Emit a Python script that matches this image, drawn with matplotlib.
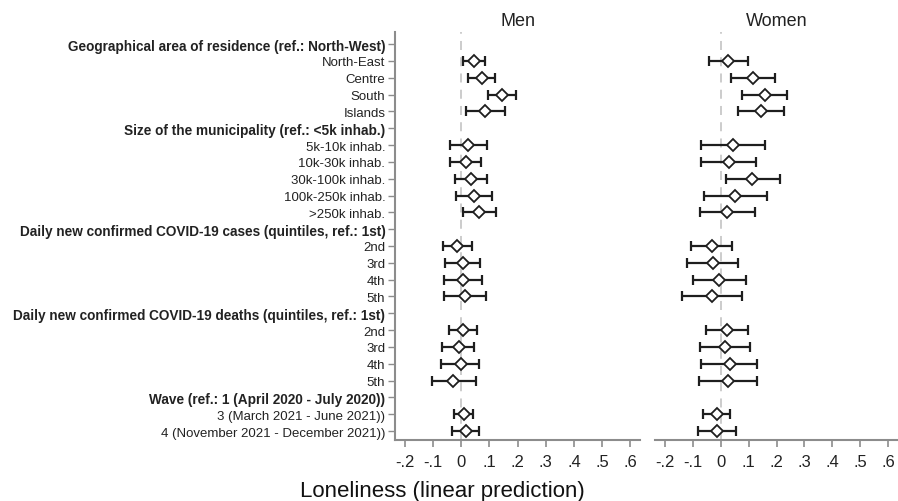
import numpy as np
import matplotlib
matplotlib.use("Agg")
import matplotlib.pyplot as plt
from matplotlib.ticker import FuncFormatter

plt.rcParams["font.family"] = ["Liberation Sans", "DejaVu Sans"]

# -------------------------------
# Coefficients (linear prediction of loneliness)
# -------------------------------
labels = [
    "Geographical area of residence (ref.: North-West)",
    "North-East", "Centre", "South", "Islands",
    "Size of the municipality (ref.: <5k inhab.)",
    "5k-10k inhab.", "10k-30k inhab.", "30k-100k inhab.", "100k-250k inhab.", ">250k inhab.",
    "Daily new confirmed COVID-19 cases (quintiles, ref.: 1st)",
    "2nd", "3rd", "4th", "5th",
    "Daily new confirmed COVID-19 deaths (quintiles, ref.: 1st)",
    "2nd", "3rd", "4th", "5th",
    "Wave (ref.: 1 (April 2020 - July 2020))",
    "3 (March 2021 - June 2021))",
    "4 (November 2021 - December 2021))",
]
headers = [0, 5, 11, 16, 21]

# None marks a header row (reference category, nothing to plot)
men_est = [None, 0.047, 0.073, 0.146, 0.086,
           None, 0.025, 0.017, 0.035, 0.047, 0.065,
           None, -0.013, 0.006, 0.007, 0.013,
           None, 0.006, -0.008, -0.002, -0.028,
           None, 0.010, 0.018]
men_lo = [None, 0.006, 0.026, 0.095, 0.017,
          None, -0.041, -0.038, -0.022, -0.019, 0.008,
          None, -0.063, -0.056, -0.060, -0.060,
          None, -0.043, -0.067, -0.070, -0.104,
          None, -0.026, -0.032]
men_hi = [None, 0.086, 0.120, 0.194, 0.157,
          None, 0.091, 0.071, 0.091, 0.109, 0.122,
          None, 0.037, 0.067, 0.074, 0.089,
          None, 0.056, 0.047, 0.063, 0.052,
          None, 0.044, 0.063]

women_est = [None, 0.027, 0.117, 0.158, 0.145,
             None, 0.045, 0.030, 0.112, 0.052, 0.024,
             None, -0.032, -0.028, -0.004, -0.031,
             None, 0.022, 0.015, 0.034, 0.028,
             None, -0.013, -0.012]
women_lo = [None, -0.041, 0.038, 0.078, 0.061,
            None, -0.071, -0.069, 0.018, -0.060, -0.074,
            None, -0.107, -0.118, -0.100, -0.138,
            None, -0.052, -0.073, -0.068, -0.077,
            None, -0.064, -0.079]
women_hi = [None, 0.097, 0.195, 0.239, 0.226,
            None, 0.158, 0.127, 0.212, 0.167, 0.122,
            None, 0.041, 0.061, 0.091, 0.076,
            None, 0.098, 0.106, 0.130, 0.130,
            None, 0.035, 0.057]

xticks = [-0.2, -0.1, 0, 0.1, 0.2, 0.3, 0.4, 0.5, 0.6]
panels = ["Men", "Women"]

AXIS_GREY = "#8c8c8c"
INK = "#1e1e1e"


def stata_fmt(v, pos):
    if abs(v) < 1e-9:
        return "0"
    s = "%.1f" % v
    return s.replace("0.", ".")


def draw_panel(ax, est, lo, hi, title, show_y):
    rows = [i for i, e in enumerate(est) if e is not None]
    e = np.array([est[i] for i in rows])
    l = np.array([lo[i] for i in rows])
    h = np.array([hi[i] for i in rows])

    ax.axvline(0, color="#c8c8c8", lw=1.3, ls=(0, (5, 4)), zorder=1)
    ax.errorbar(e, rows, xerr=[e - l, h - e], fmt="none", ecolor=INK,
                elinewidth=1.6, capsize=3.5, capthick=1.6, zorder=2)
    ax.plot(e, rows, ls="none", marker="D", ms=6.5, mfc="white",
            mec=INK, mew=1.3, zorder=3)

    ax.set_xlim(-0.234, 0.634)
    ax.set_ylim(23.53, -0.71)
    ax.set_xticks(xticks)
    ax.xaxis.set_major_formatter(FuncFormatter(stata_fmt))
    ax.tick_params(axis="x", length=5, width=1.2, color=AXIS_GREY,
                   labelsize=12, labelcolor="#222222", pad=5)

    for side in ["top", "right"]:
        ax.spines[side].set_visible(False)
    ax.spines["bottom"].set_color(AXIS_GREY)
    ax.spines["bottom"].set_linewidth(1.5)

    if show_y:
        ax.spines["left"].set_color(AXIS_GREY)
        ax.spines["left"].set_linewidth(1.5)
        ax.set_yticks(range(len(labels)))
        ax.set_yticklabels(labels)
        ax.tick_params(axis="y", length=5, width=1.0, color=AXIS_GREY,
                       labelsize=9.5, labelcolor="#222222", pad=2)
        for i, t in enumerate(ax.get_yticklabels()):
            if i in headers:
                t.set_fontweight("bold")
                t.set_fontsize(9.8)
    else:
        ax.spines["left"].set_visible(False)
        ax.set_yticks([])

    ax.set_title(title, fontsize=13, color="#222222", pad=5)


fig = plt.figure(figsize=(8.98, 5.02), dpi=100)
ax_m = fig.add_axes([0.4399, 0.1215, 0.2728, 0.8125])
ax_w = fig.add_axes([0.7294, 0.1215, 0.2706, 0.8125])

draw_panel(ax_m, men_est, men_lo, men_hi, panels[0], True)
draw_panel(ax_w, women_est, women_lo, women_hi, panels[1], False)

fig.text(0.493, 0.02, "Loneliness (linear prediction)", ha="center",
         va="center", fontsize=16, color="#111111")

fig.savefig("out.png", dpi=100, facecolor="white")
